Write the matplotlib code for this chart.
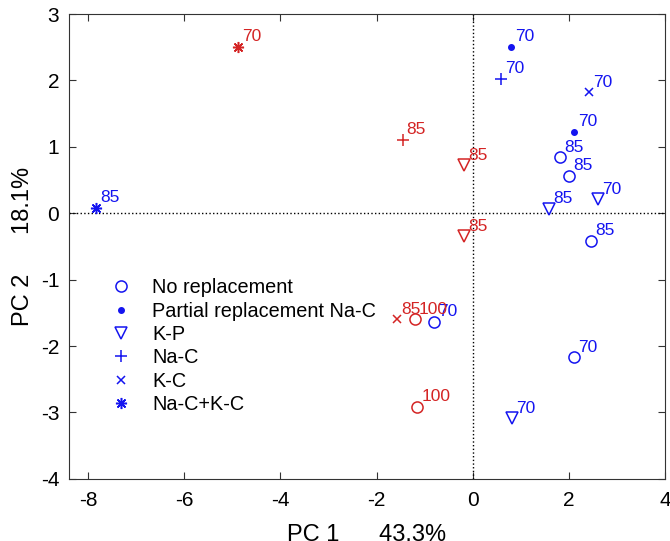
import matplotlib
matplotlib.use('Agg')
import matplotlib.pyplot as plt
from matplotlib.lines import Line2D

plt.rcParams['font.family'] = ['Liberation Sans', 'DejaVu Sans']
plt.rcParams['axes.unicode_minus'] = False

# PCA scores, one entry per sample
pc1 = [-7.83, 0.79, 0.58, 2.42, 2.10, 1.81, 2.00, 2.60, 1.58, 2.46, -0.81, 2.10, 0.81,
       -4.88, -1.46, -0.19, -0.19, -1.58, -1.21, -1.15]
pc2 = [0.08, 2.50, 2.02, 1.82, 1.23, 0.84, 0.56, 0.21, 0.07, -0.42, -1.64, -2.17, -3.09,
       2.50, 1.11, 0.72, -0.35, -1.60, -1.60, -2.92]
group = ['Na-C+K-C', 'Partial', 'Na-C', 'K-C', 'Partial', 'No', 'No', 'K-P', 'K-P', 'No', 'No', 'No', 'K-P',
         'Na-C+K-C', 'Na-C', 'K-P', 'K-P', 'K-C', 'No', 'No']
level = ['85', '70', '70', '70', '70', '85', '85', '70', '85', '85', '70', '70', '70',
         '70', '85', '85', '85', '85', '100', '100']
batch = ['b'] * 13 + ['r'] * 7

legend_groups = ['No', 'Partial', 'K-P', 'Na-C', 'K-C', 'Na-C+K-C']
legend_names = ['No replacement', 'Partial replacement Na-C', 'K-P', 'Na-C', 'K-C', 'Na-C+K-C']

colors = {'b': '#1414f0', 'r': '#d42424'}
styles = {
    'No': dict(marker='o', ms=8, mfc='none', mew=1.1),
    'Partial': dict(marker='.', ms=8),
    'K-P': dict(marker='v', ms=9, mfc='none', mew=1.1),
    'Na-C': dict(marker='+', ms=9, mew=1.1),
    'K-C': dict(marker='x', ms=5.5, mew=1.1),
    'Na-C+K-C': dict(marker=(8, 2, 0), ms=8, mew=1.1),
}

fig = plt.figure(figsize=(6.7, 5.41), dpi=100)
ax = fig.add_axes([0.103, 0.115, 0.8895, 0.859])

ax.axvline(0, color='k', ls=':', lw=1)
ax.axhline(0, color='k', ls=':', lw=1)

for x, y, g, lv, b in zip(pc1, pc2, group, level, batch):
    c = colors[b]
    ax.plot([x], [y], ls='none', color=c, mec=c, **styles[g])
    ax.annotate(lv, (x, y), xytext=(3, 2), textcoords='offset points',
                color=c, fontsize=12.5, ha='left', va='bottom')

handles = [Line2D([], [], ls='none', color=colors['b'], mec=colors['b'], **styles[g])
           for g in legend_groups]
ax.legend(handles, legend_names, loc='upper left', bbox_to_anchor=(0.03, 0.47),
          frameon=False, fontsize=14.3, handletextpad=0.8, handlelength=1.6,
          labelspacing=0.22)

ax.set_xlim(-8.4, 4)
ax.set_ylim(-4, 3)
ax.set_xticks([-8, -6, -4, -2, 0, 2, 4])
ax.set_yticks([-4, -3, -2, -1, 0, 1, 2, 3])
ax.tick_params(direction='in', top=True, right=True, labelsize=15, length=5, color='#333333')
ax.tick_params(axis='x', pad=9)
ax.tick_params(axis='y', pad=7)
for s in ax.spines.values():
    s.set_color('#333333')

ax.set_xlabel('PC 1      43.3%', fontsize=17, labelpad=10)
ax.set_ylabel('PC 2      18.1%', fontsize=17, labelpad=5)

plt.savefig('out.png')
